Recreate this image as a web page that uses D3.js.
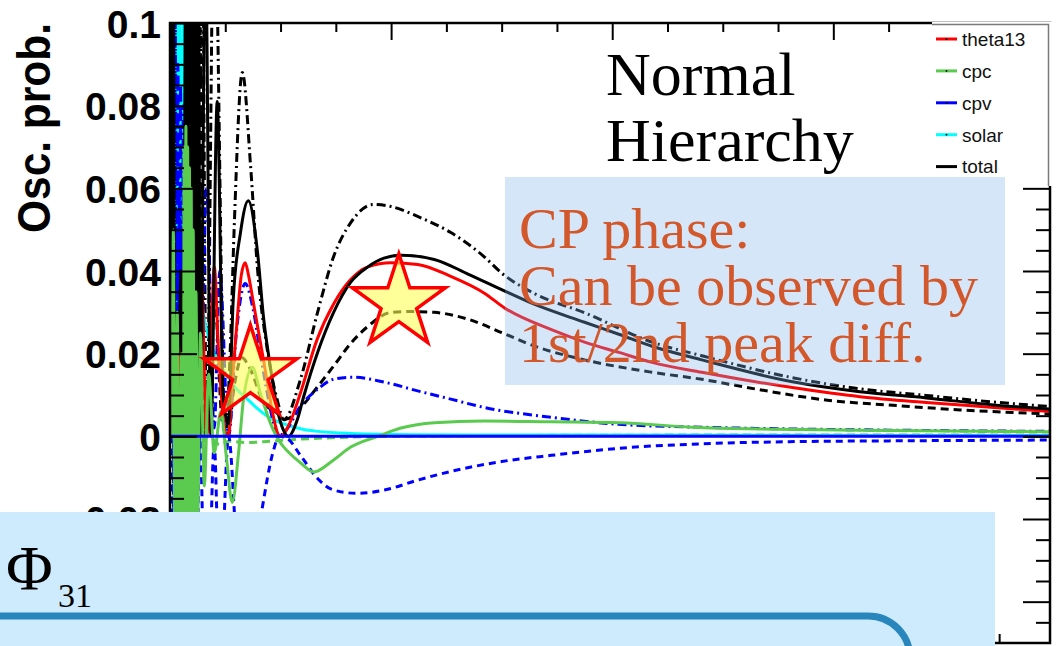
<!DOCTYPE html>
<html><head><meta charset="utf-8">
<script src="https://cdn.jsdelivr.net/npm/d3@7"></script>
<style>html,body{margin:0;padding:0;background:#fff;overflow:hidden} svg{display:block}</style>
</head><body>
<svg id="c" width="1059" height="646"></svg>
<script>
// ---------------- data (E in GeV, oscillation probability) ----------------
const energyDomain = [0, 7.96];
const probDomain = [-0.05, 0.1];
const yTickValues = [-0.04, -0.02, 0, 0.02, 0.04, 0.06, 0.08, 0.1];
const yTickLabels = ["-0.04", "-0.02", "0", "0.02", "0.04", "0.06", "0.08", "0.1"];
const yMinorTicks = [-0.045,-0.035,-0.03,-0.025,-0.015,-0.01,-0.005,0.005,0.01,0.015,0.025,0.03,0.035,0.045,0.05,0.055,0.065,0.07,0.075,0.085,0.09,0.095];
const xMajorTicks = [0, 2, 4, 6];
const xMinorTicks = [0.5,1,1.5,2.5,3,3.5,4.5,5,5.5,6.5,7,7.5];

const theta13 = [[0.02,0.0],[0.045,0.018],[0.07,0.0],[0.1,0.025],[0.125,0.003],[0.15,0.036],[0.175,0.0],[0.205,0.032],[0.24,0.0],[0.285,0.038],[0.33,0.0],[0.37,0.02],[0.4,0.041],[0.44,0.02],[0.5,0.001],[0.53,0.0],[0.56,0.012],[0.61,0.029],[0.645,0.039],[0.68,0.042],[0.71,0.039],[0.75,0.033],[0.845,0.0186],[0.935,0.0048],[0.97,0.001],[1.0,0.0],[1.08,0.003],[1.18,0.0105],[1.33,0.0234],[1.48,0.032],[1.63,0.0378],[1.79,0.041],[2.0,0.042],[2.24,0.0416],[2.54,0.0387],[2.84,0.0347],[3.03,0.031],[3.45,0.0258],[3.75,0.0228],[4.06,0.0203],[4.36,0.0179],[4.81,0.0155],[5.63,0.0118],[6.24,0.0096],[6.84,0.0082],[7.45,0.007],[7.96,0.006]];

const cpcSolid = [[0.018,0.0],[0.03,0.05],[0.045,-0.04],[0.065,0.03],[0.085,-0.03],[0.105,0.02],[0.12,-0.06],[0.128,0.07],[0.136,-0.07],[0.144,0.075],[0.152,-0.07],[0.16,0.07],[0.168,-0.075],[0.176,0.065],[0.184,-0.07],[0.192,0.06],[0.2,-0.06],[0.21,0.05],[0.22,-0.03],[0.235,0.035],[0.25,-0.02],[0.275,0.025],[0.31,-0.012],[0.35,0.015],[0.4,-0.004],[0.46,0.006],[0.51,-0.005],[0.563,-0.016],[0.62,-0.004],[0.665,0.009],[0.745,0.0167],[0.817,0.0105],[0.908,0.0032],[1.0,-0.0016],[1.026,-0.0025],[1.18,-0.0064],[1.3,-0.0086],[1.48,-0.0057],[1.635,-0.0026],[1.88,0.0],[2.09,0.002],[2.39,0.0033],[2.84,0.0037],[3.45,0.0035],[4.06,0.0033],[4.72,0.0022],[5.5,0.0017],[6.5,0.0014],[7.96,0.0011]];
const cpcDashed = [[0.02,0.0],[0.05,0.01],[0.08,-0.01],[0.11,0.008],[0.14,-0.006],[0.18,0.004],[0.25,-0.003],[0.35,0.0],[0.45,-0.002],[0.53,-0.0012],[0.7,-0.0015],[0.9,-0.0012],[1.1,-0.0008],[1.5,-0.0003],[2.0,0.0],[3.0,0.0002],[5.0,0.0003],[7.96,0.0003]];

const cpvSolid = [[0.0,0.0],[7.96,0.0]];
const cpvDashDot = [[0.012,0.0],[0.024,0.1],[0.036,-0.03],[0.048,0.1],[0.06,-0.05],[0.072,0.09],[0.084,-0.06],[0.096,0.085],[0.108,-0.05],[0.12,0.08],[0.135,-0.04],[0.15,0.07],[0.165,-0.02],[0.18,0.06],[0.2,-0.01],[0.23,0.05],[0.27,0.0],[0.33,0.06],[0.4,0.002],[0.45,0.04],[0.53,0.0],[0.6,0.025],[0.68,0.037],[0.75,0.031],[0.83,0.018],[0.93,0.004],[0.98,0.0],[1.05,0.0015],[1.18,0.0073],[1.335,0.0114],[1.48,0.0138],[1.66,0.0143],[1.94,0.0131],[2.24,0.011],[2.54,0.009],[2.84,0.007],[3.45,0.0046],[4.06,0.0029],[4.81,0.0022],[5.6,0.0018],[6.5,0.0015],[7.96,0.0012]];
const cpvDashed = [[0.012,0.0],[0.024,-0.1],[0.036,0.03],[0.048,-0.1],[0.06,0.05],[0.072,-0.09],[0.084,0.06],[0.096,-0.085],[0.108,0.05],[0.12,-0.08],[0.135,0.04],[0.15,-0.07],[0.165,0.02],[0.18,-0.06],[0.2,0.01],[0.23,-0.05],[0.27,0.0],[0.33,-0.06],[0.4,-0.002],[0.45,-0.04],[0.53,0.0],[0.6,-0.025],[0.68,-0.037],[0.75,-0.031],[0.83,-0.018],[0.93,-0.004],[0.99,0.0],[1.06,-0.0005],[1.18,-0.0046],[1.335,-0.0102],[1.48,-0.013],[1.7,-0.0138],[1.94,-0.013],[2.24,-0.0106],[2.54,-0.0085],[3.0,-0.0061],[3.45,-0.0046],[4.06,-0.0029],[4.81,-0.0018],[5.6,-0.0013],[6.5,-0.0011],[7.96,-0.0009]];

const solar = [[0.015,0.1],[0.03,0.02],[0.045,0.13],[0.06,0.01],[0.08,0.12],[0.1,0.03],[0.12,0.11],[0.14,0.04],[0.16,0.09],[0.19,0.06],[0.21,0.07],[0.245,0.045],[0.3,0.03],[0.36,0.023],[0.43,0.0185],[0.52,0.0145],[0.6,0.0115],[0.7,0.009],[0.8,0.0065],[0.9,0.0045],[1.03,0.003],[1.2,0.0017],[1.335,0.0012],[1.635,0.0007],[2.2,0.0004],[3.5,0.0003],[7.96,0.0002]];

const totalSolid = [[0.008,0.13],[0.018,0.0],[0.03,0.13],[0.042,0.01],[0.06,0.03],[0.08,0.02],[0.1,0.04],[0.12,0.01],[0.145,0.13],[0.155,0.01],[0.165,0.13],[0.175,0.0],[0.185,0.13],[0.195,0.01],[0.205,0.13],[0.215,0.0],[0.228,0.13],[0.24,0.005],[0.255,0.13],[0.275,0.0],[0.32,0.12],[0.37,0.0],[0.427,0.081],[0.48,0.01],[0.527,0.003],[0.572,0.033],[0.636,0.049],[0.708,0.057],[0.79,0.045],[0.845,0.029],[0.908,0.0168],[0.972,0.0064],[1.026,0.0015],[1.07,0.0],[1.15,0.0039],[1.21,0.0097],[1.335,0.0203],[1.48,0.03],[1.635,0.0373],[1.79,0.041],[1.935,0.0431],[2.09,0.0438],[2.39,0.0428],[2.7,0.0392],[3.0,0.0355],[3.3,0.0319],[3.75,0.0276],[4.06,0.0247],[4.36,0.0218],[4.81,0.0185],[5.63,0.0132],[6.24,0.0108],[6.84,0.0093],[7.45,0.0076],[7.96,0.0066]];
const totalDashDot = [[0.012,0.0],[0.022,0.13],[0.035,0.0],[0.06,0.02],[0.09,0.0],[0.12,0.03],[0.15,0.0],[0.17,0.13],[0.2,0.0],[0.23,0.1],[0.26,0.0],[0.29,0.13],[0.33,0.0],[0.4,0.13],[0.5,0.0],[0.545,0.021],[0.58,0.05],[0.654,0.088],[0.73,0.065],[0.79,0.041],[0.88,0.021],[0.97,0.0088],[1.03,0.004],[1.18,0.0138],[1.335,0.03],[1.48,0.0435],[1.635,0.0517],[1.84,0.0561],[2.0,0.0556],[2.24,0.0532],[2.54,0.0493],[2.84,0.0435],[3.0,0.0395],[3.3,0.0345],[3.75,0.0299],[4.36,0.0228],[4.81,0.0195],[5.63,0.0142],[6.24,0.0115],[6.84,0.0099],[7.45,0.0083],[7.96,0.0072]];
const totalDashed = [[0.015,0.0],[0.028,0.12],[0.045,0.0],[0.07,0.03],[0.1,0.0],[0.13,0.04],[0.155,0.0],[0.18,0.12],[0.21,0.0],[0.26,0.12],[0.31,0.0],[0.4,0.035],[0.47,0.004],[0.52,0.0],[0.58,0.012],[0.65,0.019],[0.73,0.016],[0.85,0.008],[0.95,0.006],[1.05,0.0042],[1.2,0.0075],[1.335,0.012],[1.48,0.017],[1.635,0.0225],[1.79,0.0266],[2.0,0.03],[2.15,0.0302],[2.39,0.03],[2.7,0.0283],[3.0,0.0251],[3.3,0.0218],[3.75,0.0185],[4.36,0.0155],[4.81,0.0138],[5.33,0.0113],[5.93,0.0088],[6.54,0.0075],[7.15,0.0064],[7.96,0.0054]];

const starPoints = [[0.727, 0.0151], [2.07, 0.0323]];

const legendLabels = ["theta13", "cpc", "cpv", "solar", "total"];
const legendColors = ["#ff0000", "#5acb4f", "#0000ff", "#00ffff", "#000000"];

const cpLines = ["CP phase:", "Can be observed by", "1st/2nd peak diff."];
const hierarchyLines = ["Normal", "Hierarchy"];

// ---------------- drawing ----------------
const svg = d3.select("#c");
const F = {l:170, t:23, r:1050, b:643};
const x = d3.scaleLinear().domain(energyDomain).range([F.l, F.r]);
const y = d3.scaleLinear().domain(probDomain).range([F.b, F.t]);
const SANS = "'Liberation Sans', Arial, Helvetica, sans-serif";
const SERIF = "'Liberation Serif', 'Times New Roman', serif";

svg.append("rect").attr("width",1059).attr("height",646).attr("fill","#fff");
svg.append("defs").append("clipPath").attr("id","clip")
  .append("rect").attr("x",F.l).attr("y",F.t).attr("width",F.r-F.l).attr("height",F.b-F.t);

const line = d3.line().x(d=>x(d[0])).y(d=>y(d[1])).curve(d3.curveMonotoneX);
const series = [
  {data: totalDashed, color: "#000", dash: "8,5"},
  {data: totalDashDot, color: "#000", dash: "9,4,2,4"},
  {data: cpcDashed, color: legendColors[1], dash: "8,5"},
  {data: solar, color: legendColors[3], dash: null},
  {data: cpvDashed, color: legendColors[2], dash: "7,5"},
  {data: cpvDashDot, color: legendColors[2], dash: "9,4,2,4"},
  {data: theta13, color: legendColors[0], dash: null},
  {data: totalSolid, color: "#000", dash: null},
  {data: cpcSolid, color: legendColors[1], dash: null},
  {data: cpvSolid, color: legendColors[2], dash: null}
];
const gCurves = svg.append("g").attr("clip-path","url(#clip)");
series.forEach(s => {
  gCurves.append("path").attr("d", line(s.data)).attr("fill","none")
    .attr("stroke", s.color).attr("stroke-width", 3)
    .attr("stroke-dasharray", s.dash);
});

// axes ticks
function ticks(gen, tr) {
  const g = svg.append("g").attr("transform", tr).call(gen);
  g.select(".domain").remove();
  g.selectAll("line").attr("stroke","#000").attr("stroke-width",2);
  return g;
}
ticks(d3.axisRight(y).tickValues(yTickValues).tickSize(27).tickFormat(""), `translate(${F.l},0)`);
ticks(d3.axisRight(y).tickValues(yMinorTicks).tickSize(14).tickFormat(""), `translate(${F.l},0)`);
ticks(d3.axisLeft(y).tickValues(yTickValues).tickSize(27).tickFormat(""), `translate(${F.r},0)`);
ticks(d3.axisLeft(y).tickValues(yMinorTicks).tickSize(14).tickFormat(""), `translate(${F.r},0)`);
ticks(d3.axisBottom(x).tickValues(xMajorTicks).tickSize(17).tickFormat(""), `translate(0,${F.t})`);
ticks(d3.axisBottom(x).tickValues(xMinorTicks).tickSize(9).tickFormat(""), `translate(0,${F.t})`);
ticks(d3.axisTop(x).tickValues(xMajorTicks).tickSize(17).tickFormat(""), `translate(0,${F.b})`);
ticks(d3.axisTop(x).tickValues(xMinorTicks).tickSize(9).tickFormat(""), `translate(0,${F.b})`);

// frame
svg.append("rect").attr("x",F.l).attr("y",F.t).attr("width",F.r-F.l).attr("height",F.b-F.t)
  .attr("fill","none").attr("stroke","#000").attr("stroke-width",2.5);

// tick labels
const gl = svg.append("g").attr("transform",`translate(${F.l},0)`)
  .call(d3.axisLeft(y).tickValues(yTickValues).tickSize(0).tickPadding(9)
    .tickFormat((d,i)=>yTickLabels[i]));
gl.select(".domain").remove();
gl.selectAll("text").attr("font-family",SANS).attr("font-weight","bold")
  .attr("font-size",39).attr("fill","#000").attr("dy","0.36em");

// y title
svg.append("text").attr("transform","translate(50,128) rotate(-90)")
  .attr("text-anchor","middle").attr("font-family",SANS).attr("font-weight","bold")
  .attr("font-size",46).attr("textLength",210).attr("lengthAdjust","spacingAndGlyphs")
  .text("Osc. prob.");

// stars
const star = d3.symbol().type(d3.symbolStar).size(2695);
svg.selectAll(".star").data(starPoints).join("path").attr("class","star")
  .attr("transform", d=>`translate(${x(d[0])},${y(d[1])})`).attr("d", star())
  .attr("fill","#ffff55").attr("fill-opacity",0.6)
  .attr("stroke","#ff0000").attr("stroke-width",3.5).attr("stroke-linejoin","miter");

// legend
const lg = svg.append("g");
lg.append("rect").attr("x",932).attr("y",22).attr("width",121).attr("height",164).attr("fill","#fff");
lg.append("path").attr("d","M932,24.5 H1048.5 V186").attr("fill","none").attr("stroke","#7a7a7a").attr("stroke-width",1.5);
legendLabels.forEach((lab,i)=>{
  const yy = 39 + i*31.9;
  lg.append("line").attr("x1",936).attr("x2",957).attr("y1",yy).attr("y2",yy)
    .attr("stroke",legendColors[i]).attr("stroke-width",3);
  lg.append("circle").attr("cx",946.5).attr("cy",yy).attr("r",0.9).attr("fill","#000");
  lg.append("text").attr("x",962).attr("y",yy).attr("dy","0.36em")
    .attr("font-family",SANS).attr("font-size",19).attr("fill","#111").text(lab);
});

// Normal Hierarchy
hierarchyLines.forEach((t,i)=>{
  svg.append("text").attr("x",606).attr("y",95+i*66).attr("font-family",SERIF)
    .attr("font-size",62).attr("fill","#000").text(t);
});

// CP box
svg.append("rect").attr("x",505).attr("y",177).attr("width",500).attr("height",208)
  .attr("fill","rgb(127,179,233)").attr("fill-opacity",0.33);
cpLines.forEach((t,i)=>{
  svg.append("text").attr("x",519).attr("y",248+i*57).attr("font-family",SERIF)
    .attr("font-size",58).attr("fill","#d2572a").text(t);
});

// bottom box
svg.append("rect").attr("x",0).attr("y",512).attr("width",995).attr("height",140).attr("fill","#cdebfc");
svg.append("text").attr("x",6).attr("y",590).attr("font-family",SERIF).attr("font-size",64).attr("fill","#000").text("Φ");
svg.append("text").attr("x",58).attr("y",607).attr("font-family",SERIF).attr("font-size",34).attr("fill","#000").text("31");
svg.append("path").attr("d","M-5,616 H868 A42,42 0 0 1 910,658").attr("fill","none")
  .attr("stroke","#2886bd").attr("stroke-width",7);
</script>
</body></html>
